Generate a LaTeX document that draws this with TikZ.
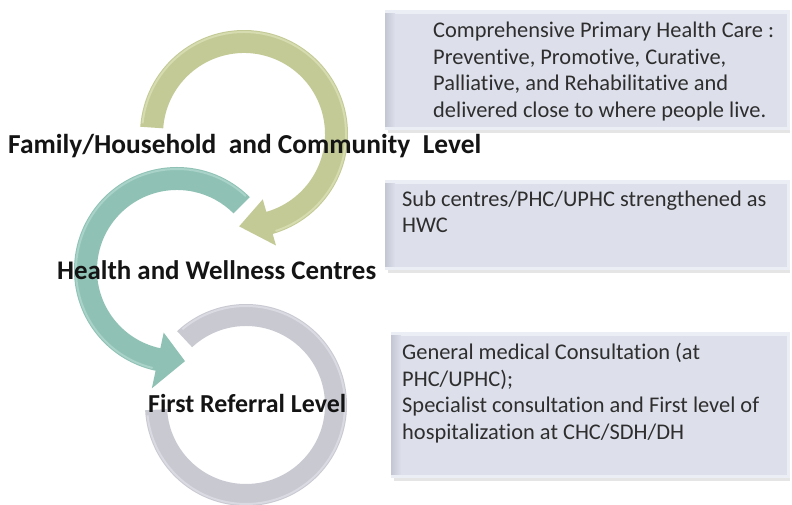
\documentclass[tikz,border=0pt]{standalone}
\usepackage{fontspec}
\setmainfont{Carlito}[Ligatures=NoCommon]
\definecolor{greenarc}{HTML}{C4CA95}
\definecolor{greenlite}{HTML}{D6DBB0}
\definecolor{tealarc}{HTML}{8FC2B5}
\definecolor{teallite}{HTML}{A9D2C8}
\definecolor{grayarc}{HTML}{C9C9D2}
\definecolor{graylite}{HTML}{DADAE2}
\definecolor{boxfill}{HTML}{DDE0EB}
\definecolor{boxedge}{HTML}{ECEEF5}
\definecolor{boxshade}{HTML}{C3C6D3}
\newcommand\panelbox[4]{%
  \fill[black!10] ({#1+3},{#2-3}) rectangle ({#3},{#4-3});
  \fill[boxedge] (#1,#2) rectangle (#3,#4);
  \shade[left color=boxshade,right color=boxfill] (#1,{#2+3}) rectangle ({#1+10},{#4-4});
  \fill[boxfill] ({#1+10},{#2+3}) rectangle ({#3-3},{#4-4});
}
\begin{document}
\begin{tikzpicture}[x=1bp,y=1bp,
  lvl/.style={font=\fontsize{27}{32}\selectfont\bfseries, anchor=base west, inner sep=0, text=black!92},
  boxtext/.style={font=\fontsize{22.5}{26}\selectfont, anchor=base west, inner sep=0, text=black!82}]
\useasboundingbox (0,0) rectangle (792,505);
\fill[white] (0,0) rectangle (792,505);

% info panels
\panelbox{385}{375}{790}{495}
\panelbox{385}{235}{790}{325}
\panelbox{391}{27}{790}{173}

% grey ring
\begin{scope}[shift={(246,100)}]
  \fill[grayarc] (133:101) arc[start angle=133,end angle=-177,radius=101]
     -- (-177:79) arc[start angle=-177,end angle=133,radius=79] -- cycle;
  \draw[graylite,line width=2bp] (130:99) arc[start angle=130,end angle=-174,radius=99];
\end{scope}

% teal arrow
\begin{scope}[shift={(177,235)}]
  \fill[tealarc] (45:103) arc[start angle=45,end angle=258,radius=103]
     -- (258:121) -- (275:91.5) -- (258:64) -- (258:80)
     arc[start angle=258,end angle=45,radius=80] -- cycle;
  \draw[teallite,line width=2bp] (47:101) arc[start angle=47,end angle=256,radius=101];
\end{scope}

% green arrow
\begin{scope}[shift={(244,371)}]
  \fill[greenarc] (176:104) arc[start angle=176,end angle=-74,radius=104]
     -- (-74:116) -- (-93:92.5) -- (-74:68) -- (-74:81)
     arc[start angle=-74,end angle=176,radius=81] -- cycle;
  \draw[greenlite,line width=2bp] (174:102) arc[start angle=174,end angle=-72,radius=102];
\end{scope}

% level labels
\node[lvl,font=\fontsize{27.5}{32}\selectfont\bfseries] (fam) at (8,351) {Family/Household\ \ and Community\ \ Level};
\node[lvl] (hwc) at (57,225) {Health and Wellness Centres};
\node[lvl,font=\fontsize{26}{30}\selectfont\bfseries] (frl) at (148,92) {First Referral Level};

% panel texts
\node[boxtext] (a1) at (433,467) {Comprehensive Primary Health Care :};
\node[boxtext] (a2) at (433,440.5) {Preventive, Promotive, Curative,};
\node[boxtext] (a3) at (433,414) {Palliative, and Rehabilitative and};
\node[boxtext] (a4) at (433,387.5) {delivered close to where people live.};

\node[boxtext] (b1) at (402,298) {Sub centres/PHC/UPHC strengthened as};
\node[boxtext] (b2) at (402,272) {HWC};

\node[boxtext] (c1) at (402,145) {General medical Consultation (at};
\node[boxtext] (c2) at (402,118.5) {PHC/UPHC);};
\node[boxtext] (c3) at (402,92) {Specialist consultation and First level of};
\node[boxtext] (c4) at (402,65.5) {hospitalization at CHC/SDH/DH};
\end{tikzpicture}
\end{document}
